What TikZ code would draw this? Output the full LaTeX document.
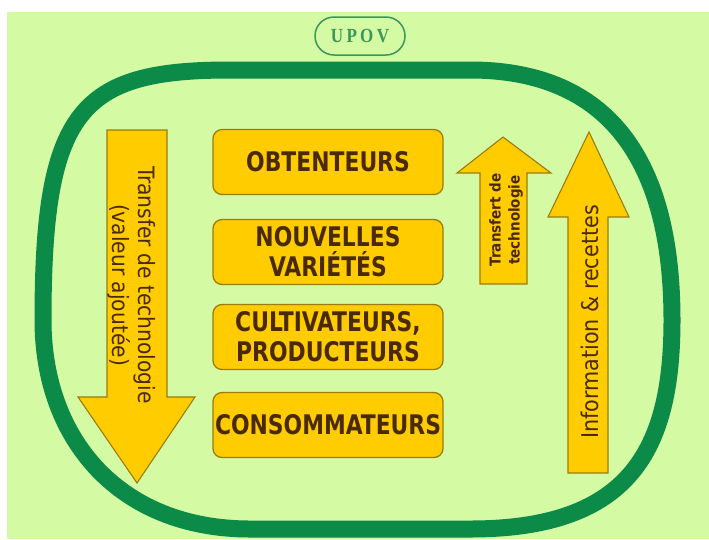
\documentclass[tikz,border=0pt]{standalone}
\usepackage{fontspec}
\setmainfont{DejaVu Sans Condensed}
\newfontfamily\boxfont{DejaVu Sans Condensed}[FakeStretch=0.9]
\newfontfamily\upovfont{Liberation Serif}[FakeStretch=0.85]
\definecolor{fond}{HTML}{D4FBA3}
\definecolor{vert}{HTML}{0B8A48}
\definecolor{vertclair}{HTML}{3A965A}
\definecolor{jaune}{HTML}{FFCC00}
\definecolor{bord}{HTML}{9C7C0C}
\definecolor{brun}{HTML}{4A2A02}
\tikzset{
  boite/.style={draw=bord, line width=1.3pt, fill=jaune, rounded corners=9pt, minimum width=230pt, minimum height=65pt, inner sep=0pt, align=center, text=brun, font=\boxfont\bfseries\fontsize{27}{30}\selectfont},
  fleche/.style={draw=bord, line width=1.1pt, fill=jaune, line join=miter},
  texte/.style={text=brun, align=center, inner sep=0pt}
}
\begin{document}
\begin{tikzpicture}[x=1pt, y=-1pt, line join=round, line cap=round]
    \useasboundingbox (0,0) rectangle (709,539);
    \fill[fond] (7,12) rectangle (709,539);
    % cadre vert
    \draw[vert, line width=17pt] (230,70) -- (470,70) .. controls (600,70) and (672,150) .. (672,320)
        .. controls (672,450) and (630,529) .. (470,529) -- (250,529) .. controls (120,529) and (43,440) .. (43,320)
        .. controls (43,110) and (80,70) .. (230,70) -- cycle;
    \node[draw=vertclair, line width=1.5pt, fill=fond, rounded corners=19pt, minimum width=90pt, minimum height=38pt, text=vertclair, font=\upovfont\bfseries\fontsize{20}{20}\selectfont] (upov) at (360,36) {U\,P\,O\,V};
    % boites
    \node[boite] (obtenteurs) at (328,162) {OBTENTEURS};
    \node[boite] (varietes) at (328,252) {NOUVELLES\\VARIÉTÉS};
    \node[boite] (cultivateurs) at (328,337) {CULTIVATEURS,\\PRODUCTEURS};
    \node[boite] (consommateurs) at (328,425) {CONSOMMATEURS};
    % fleches
    \draw[fleche] (107,130) -- (167,130) -- (167,397) -- (195,397) -- (137,483) -- (78,397) -- (107,397) -- cycle;
    \node[texte, rotate=-90, font=\fontsize{22.5}{26}\selectfont] (valeur) at (132,285) {Transfer de technologie\\(valeur ajoutée)};
    \draw[fleche] (480,284) -- (527,284) -- (527,173) -- (551,173) -- (503,137) -- (457,173) -- (480,173) -- cycle;
    \node[texte, rotate=90, font=\bfseries\fontsize{15}{19}\selectfont] (transfert) at (506,220) {Transfert de\\technologie};
    \draw[fleche] (568,473) -- (608,473) -- (608,217) -- (629,217) -- (589,132) -- (548,217) -- (568,217) -- cycle;
    \node[texte, rotate=90, font=\fontsize{23}{26}\selectfont] (recettes) at (590,322) {Information \& recettes};
\end{tikzpicture}
\end{document}
